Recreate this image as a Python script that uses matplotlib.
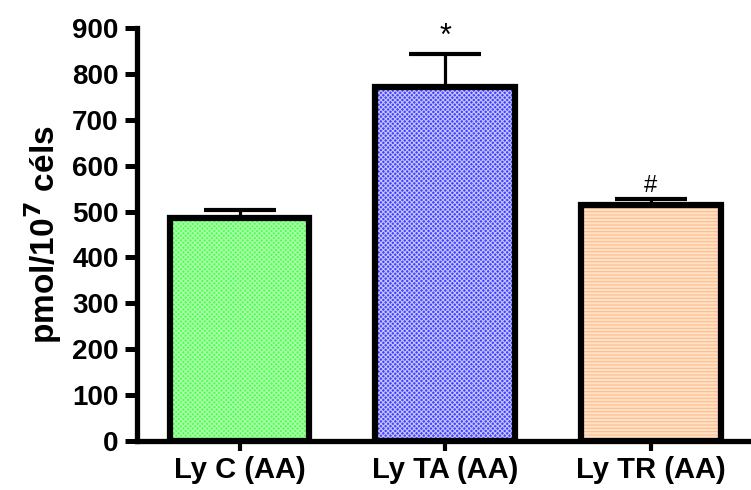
import matplotlib.pyplot as plt
import numpy as np

plt.rcParams['font.family'] = ['Liberation Sans', 'DejaVu Sans']
plt.rcParams['hatch.linewidth'] = 0.8

groups = ['Ly C (AA)', 'Ly TA (AA)', 'Ly TR (AA)']
means = [486, 772, 514]
sem = [18, 71, 14]
marks = ['', '*', '#']
fills = ['#55ff55', '#4444ff', '#ffe2c8']
hatch_cols = ['#b0ffb0', '#c4c4ff', '#ffbb88']
hatches = ['xxxxxxx', 'xxxxxxx', '-----']

fig = plt.figure(figsize=(7.51, 4.9), dpi=100)
ax = fig.add_axes([0.182, 0.1, 0.816, 0.843])

x = np.arange(len(groups))
# hatched fill first, black outline on top
ax.bar(x, means, width=0.68, color=fills, edgecolor=hatch_cols, hatch=hatches, linewidth=0, zorder=2)
ax.bar(x, means, width=0.68, facecolor='none', edgecolor='black', linewidth=4.5, zorder=3)
ax.errorbar(x, means, yerr=[np.zeros(3), sem], fmt='none', ecolor='black',
            elinewidth=2.3, capsize=26, capthick=3, zorder=1)

for xi, m, s, t in zip(x, means, sem, marks):
    if t == '*':
        ax.text(xi, m + s + 4, t, ha='center', va='bottom', fontsize=22)
    elif t:
        ax.text(xi, m + s + 4, t, ha='center', va='bottom', fontsize=17)

ax.set_xlim(-0.5, 2.48)
ax.set_ylim(0, 900)
ax.set_yticks(range(0, 901, 100))
ax.set_xticks(x)
ax.set_xticklabels(groups, fontsize=21, fontweight='bold')
ax.tick_params(axis='y', labelsize=20, width=3.6, length=9, pad=4)
ax.tick_params(axis='x', width=3, length=7, pad=4)
for lbl in ax.get_yticklabels():
    lbl.set_fontweight('bold')

ax.set_ylabel('pmol/10$^{\\mathbf{7}}$ céls', fontsize=24, fontweight='bold', labelpad=6)
for side in ['top', 'right']:
    ax.spines[side].set_visible(False)
for side in ['left', 'bottom']:
    ax.spines[side].set_linewidth(3.8)

plt.savefig('out.png', dpi=100)
